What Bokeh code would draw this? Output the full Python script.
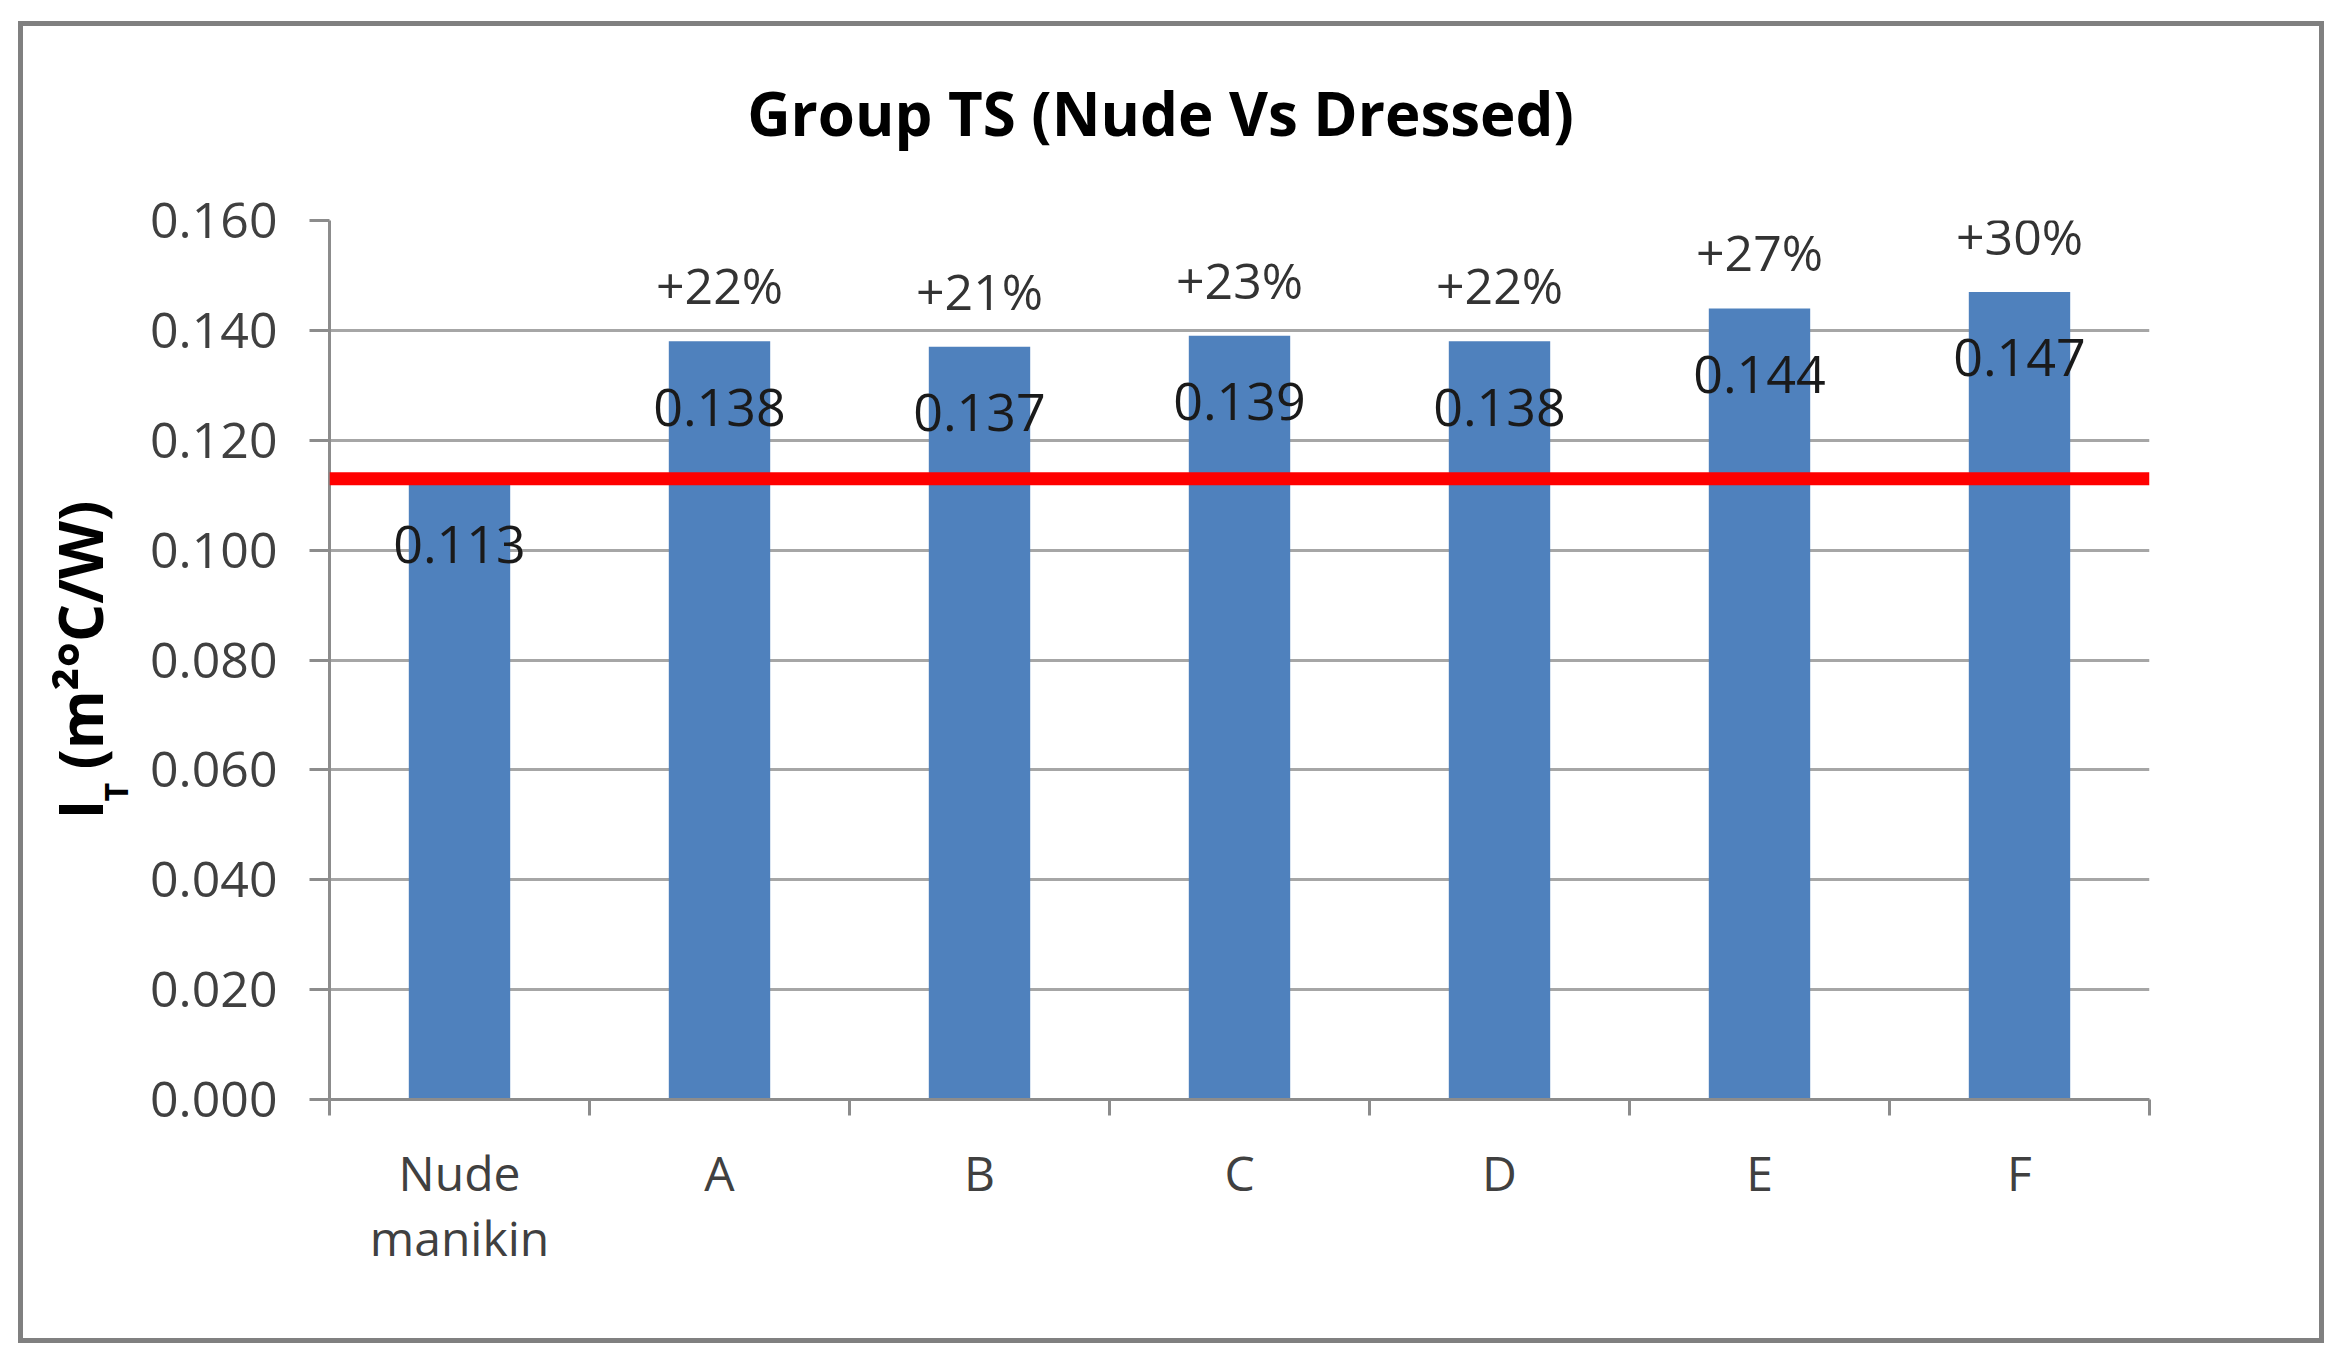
import math
from bokeh.plotting import figure
from bokeh.models import (Range1d, LinearAxis, FixedTicker, Label,
                          Span, ColumnDataSource)
from bokeh.embed import file_html
from bokeh.resources import INLINE
from bokeh.core.properties import value

# ---- data ----
categories = ["Nude manikin", "A", "B", "C", "D", "E", "F"]
category_labels = ["Nude\nmanikin", "A", "B", "C", "D", "E", "F"]
it_values = [0.113, 0.138, 0.137, 0.139, 0.138, 0.144, 0.147]
value_labels = ["0.113", "0.138", "0.137", "0.139", "0.138", "0.144", "0.147"]
pct_labels = ["", "+22%", "+21%", "+23%", "+22%", "+27%", "+30%"]
y_ticks = [0.000, 0.020, 0.040, 0.060, 0.080, 0.100, 0.120, 0.140, 0.160]
y_tick_labels = ["0.000", "0.020", "0.040", "0.060", "0.080", "0.100", "0.120", "0.140", "0.160"]
nude_reference = 0.113
title_text = "Group TS (Nude Vs Dressed)"
y_label_main = "I\u2002(m²°C/W)"   # gap leaves room for the subscript
y_label_sub = "T"

FONT = "Open Sans"
GRID = "#a6a6a6"
AXIS = "#8c8c8c"
BAR = "#4f81bd"

W, H = 2334, 1350
FL, FT = 329, 220
FR, FB = 2149, 1099

n = len(categories)
slot_centers = [i + 0.5 for i in range(n)]  # category slot centres
src = ColumnDataSource(dict(x=slot_centers, cat=categories, val=it_values, vlab=value_labels, plab=pct_labels))

p = figure(width=W, height=H, x_range=Range1d(0, n), y_range=Range1d(0, y_ticks[-1]),
           output_backend="svg", toolbar_location=None, x_axis_location=None,
           min_border_left=FL, min_border_right=W - FR, min_border_top=FT, min_border_bottom=H - FB)
p.outline_line_color = None
p.background_fill_color = "white"
p.border_fill_color = None
# chart-area border: a grey ring inset from the figure edge
p.styles = {"background-color": "#ffffff",
            "box-shadow": "inset 4px 7px 0 14px #ffffff, inset 4px 7px 0 19px #808080"}
p.xgrid.visible = False

# y axis
yax = p.yaxis[0]
yax.ticker = FixedTicker(ticks=y_ticks, minor_ticks=[])
yax.major_label_overrides = {t: s for t, s in zip(y_ticks, y_tick_labels)}
yax.axis_line_color = AXIS
yax.axis_line_width = 3
yax.major_tick_line_color = AXIS
yax.major_tick_line_width = 3
yax.major_tick_out = 20
yax.major_tick_in = 0
yax.minor_tick_line_color = None
yax.major_label_standoff = 32
yax.major_label_text_font = FONT
yax.major_label_text_font_size = "50px"
yax.major_label_text_color = "#404040"
yax.axis_label = y_label_main
yax.axis_label_text_font = FONT
yax.axis_label_text_font_style = "bold"
yax.axis_label_text_font_size = "60px"
yax.axis_label_text_color = "#000000"
yax.axis_label_standoff = 26

p.ygrid.ticker = FixedTicker(ticks=y_ticks)
p.ygrid.grid_line_color = GRID
p.ygrid.grid_line_width = 3

# x axis: labels at slot centres, tick marks between categories
xax = LinearAxis(ticker=FixedTicker(ticks=slot_centers, minor_ticks=list(range(n + 1))),
                 major_label_overrides={c: lab for c, lab in zip(slot_centers, category_labels)})
xax.axis_line_color = AXIS
xax.axis_line_width = 3
xax.major_tick_line_color = None
xax.minor_tick_line_color = AXIS
xax.minor_tick_line_width = 3
xax.minor_tick_out = 16
xax.minor_tick_in = 0
xax.major_tick_out = 16
xax.major_tick_in = 0
xax.major_label_standoff = 24
xax.major_label_text_font = FONT
xax.major_label_text_font_size = "48px"
xax.major_label_text_line_height = 1.0
xax.major_label_text_color = "#404040"
p.add_layout(xax, "below")

# bars
p.vbar(x="x", top="val", width=0.39, source=src, fill_color=BAR, line_color=None)

# value labels and percent labels
p.text(x="x", y="val", text="vlab", source=src, text_align="center", text_baseline="middle",
       y_offset=66, text_font=value(FONT), text_font_size="52px", text_color="#1a1a1a")
p.text(x="x", y="val", text="plab", source=src, text_align="center", text_baseline="middle",
       y_offset=-56, text_font=value(FONT), text_font_size="50px", text_color="#333333")

# red reference line at nude manikin value
p.add_layout(Span(location=nude_reference, dimension="width", line_color="#ff0000", line_width=13))

# title: single label in the top side panel (panel origin = frame top-left)
p.add_layout(Label(x=831, y=108, x_units="screen", y_units="screen", text=title_text,
                   text_font=FONT, text_font_style="bold", text_font_size="60px",
                   text_align="center", text_baseline="middle", text_color="#000000"),
             "above")

# subscript T of the y-axis label: single label in the right side panel (panel origin = frame bottom-right)
p.add_layout(Label(x=115 - FR, y=FB - 801, x_units="screen", y_units="screen", text=y_label_sub,
                   angle=math.pi / 2, text_font=FONT, text_font_style="bold", text_font_size="32px",
                   text_align="left", text_baseline="alphabetic", text_color="#000000"),
             "right")

open("out.html", "w").write(file_html(p, INLINE))
